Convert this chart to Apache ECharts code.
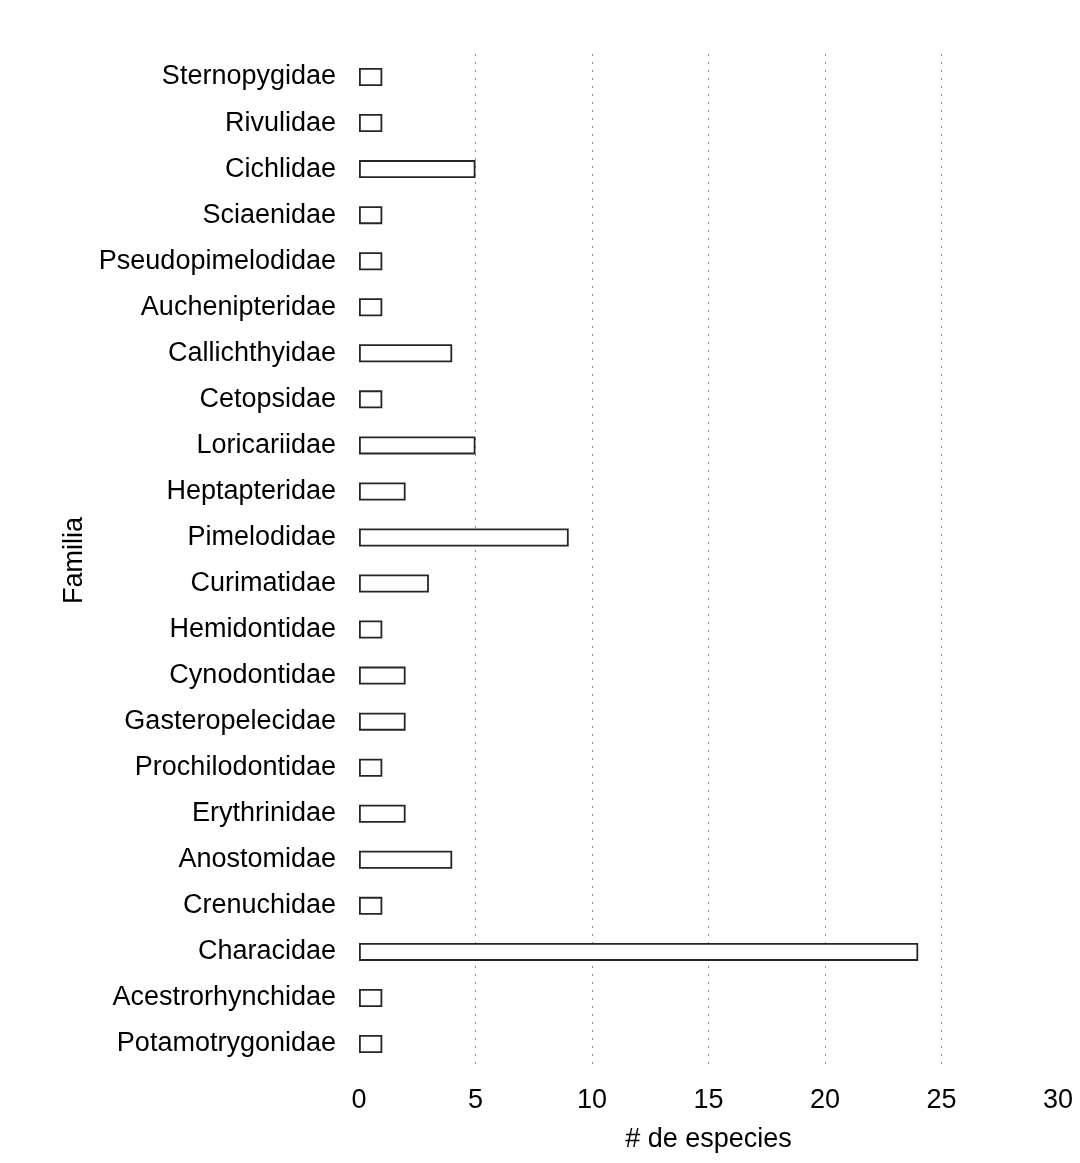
<!DOCTYPE html>
<html>
<head>
<meta charset="utf-8">
<script src="https://cdn.jsdelivr.net/npm/echarts@6/dist/echarts.min.js"></script>
<style>
  html, body { margin: 0; padding: 0; background: #fff; }
  #chart { width: 1080px; height: 1163px; }
</style>
</head>
<body>
<div id="chart"></div>
<script>
// Fish families (bottom to top) and number of species in each
const familias = [
  'Potamotrygonidae', 'Acestrorhynchidae', 'Characidae', 'Crenuchidae',
  'Anostomidae', 'Erythrinidae', 'Prochilodontidae', 'Gasteropelecidae',
  'Cynodontidae', 'Hemidontidae', 'Curimatidae', 'Pimelodidae',
  'Heptapteridae', 'Loricariidae', 'Cetopsidae', 'Callichthyidae',
  'Auchenipteridae', 'Pseudopimelodidae', 'Sciaenidae', 'Cichlidae',
  'Rivulidae', 'Sternopygidae'
];
const especies = [
  1, 1, 24, 1,
  4, 2, 1, 2,
  2, 1, 3, 9,
  2, 5, 1, 4,
  1, 1, 1, 5,
  1, 1
];
const xTicks = [0, 5, 10, 15, 20, 25, 30];

const font = 'Liberation Sans, Arial, sans-serif';
const chart = echarts.init(document.getElementById('chart'));
chart.setOption({
  backgroundColor: '#ffffff',
  animation: false,
  grid: { left: 359, right: 22, top: 54, bottom: 96, containLabel: false },
  xAxis: {
    type: 'value',
    min: xTicks[0],
    max: xTicks[xTicks.length - 1],
    interval: xTicks[1] - xTicks[0],
    name: '# de especies',
    nameLocation: 'middle',
    nameGap: 59,
    nameTextStyle: { fontFamily: font, fontSize: 27, color: '#000' },
    axisLine: { show: false },
    axisTick: { show: false },
    axisLabel: { fontFamily: font, fontSize: 27, color: '#000', margin: 20 },
    splitLine: {
      show: true,
      showMinLine: false,
      showMaxLine: false,
      lineStyle: { color: '#8c8c8c', width: 1, type: [2, 6] }
    }
  },
  yAxis: {
    type: 'category',
    data: familias,
    name: 'Familia',
    nameLocation: 'middle',
    nameGap: 271,
    nameRotate: 90,
    nameTextStyle: { fontFamily: font, fontSize: 27, color: '#000' },
    axisLine: { show: false },
    axisTick: { show: false },
    axisLabel: { fontFamily: font, fontSize: 27, color: '#000', margin: 23 },
    splitLine: { show: false }
  },
  series: [{
    type: 'bar',
    data: especies,
    barWidth: 18,
    itemStyle: { color: '#ffffff', borderColor: '#262626', borderWidth: 1.8 }
  }]
});
</script>
</body>
</html>
